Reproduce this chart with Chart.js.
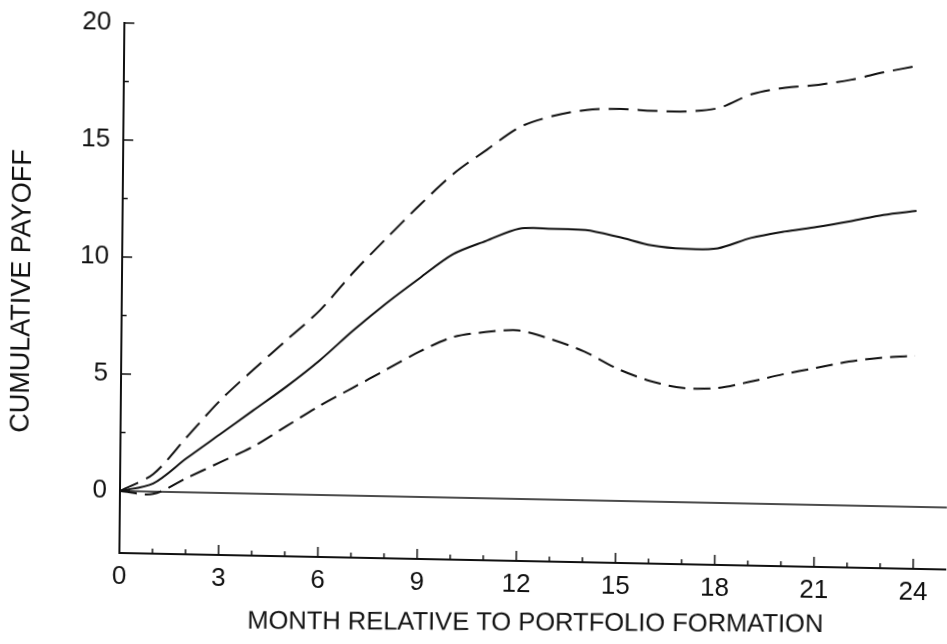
<!DOCTYPE html>
<html><head><meta charset="utf-8">
<script src="https://cdn.jsdelivr.net/npm/chart.js@4"></script>
<style>
html,body{margin:0;padding:0;background:#fff;overflow:hidden}
#wrap{width:947px;height:644px;}
canvas{display:block;transform-origin:120px 491px;transform:matrix(1,0.02,-0.0094,1,0,0);}
</style></head><body>
<div id="wrap"><canvas id="c" width="947" height="644"></canvas></div>
<script>
const months      = [0,1,2,3,4,5,6,7,8,9,10,11,12,13,14,15,16,17,18,19,20,21,22,23,24];
const meanPayoff  = [0,0.35,1.45,2.5,3.55,4.6,5.75,7.05,8.25,9.35,10.4,11.0,11.55,11.57,11.55,11.28,10.95,10.83,10.88,11.35,11.65,11.88,12.15,12.45,12.65];
const upperBand   = [0,0.75,2.35,3.95,5.3,6.6,7.9,9.55,11.05,12.5,13.85,14.9,15.9,16.4,16.68,16.75,16.7,16.7,16.88,17.5,17.8,17.95,18.2,18.55,18.85];
const lowerBand   = [0,-0.1,0.6,1.3,2.0,2.9,3.8,4.6,5.4,6.2,6.85,7.1,7.2,6.85,6.35,5.65,5.15,4.88,4.9,5.2,5.55,5.85,6.15,6.35,6.45];
const zeroLine    = [0,0];
const zeroLineX   = [0,25];
const xTickValues = [0,1,2,3,4,5,6,7,8,9,10,11,12,13,14,15,16,17,18,19,20,21,22,23,24];
const xTickLabels = ['0','3','6','9','12','15','18','21','24'];
const yTickValues = [0,2.5,5,7.5,10,12.5,15,17.5,20];
const yTickLabels = ['0','5','10','15','20'];
const xTitle = 'MONTH RELATIVE TO PORTFOLIO FORMATION';
const yTitle = 'CUMULATIVE PAYOFF';

const ink = '#111';
const fontFam = 'Liberation Sans, Arial, sans-serif';
const pts = (xs, ys) => xs.map((x, i) => ({x: x, y: ys[i]}));

const innerTicks = {
  id: 'innerTicks',
  afterDatasetsDraw(chart) {
    const {ctx, scales: {x, y}, chartArea: a} = chart;
    ctx.save();
    ctx.strokeStyle = ink;
    ctx.lineWidth = 1.5;
    x.ticks.forEach(t => {
      const px = x.getPixelForValue(t.value);
      const len = xTickLabels.includes(String(t.value)) ? 10 : 5;
      ctx.beginPath(); ctx.moveTo(px, a.bottom); ctx.lineTo(px, a.bottom - len); ctx.stroke();
    });
    y.ticks.forEach(t => {
      const py = y.getPixelForValue(t.value);
      const len = yTickLabels.includes(String(t.value)) ? 10 : 5;
      ctx.beginPath(); ctx.moveTo(a.left, py); ctx.lineTo(a.left + len, py); ctx.stroke();
    });
    ctx.fillStyle = ink;
    ctx.textAlign = 'center';
    ctx.textBaseline = 'middle';
    // x axis title, nearly level in the scan
    ctx.save();
    ctx.font = '25.5px ' + fontFam;
    ctx.translate((a.left + a.right) / 2 + 3, 615);
    ctx.transform(1, -0.014, 0, 1, 0, 0);
    ctx.fillText(xTitle, 0, 0);
    ctx.restore();
    // y axis title
    ctx.save();
    ctx.font = '27px ' + fontFam;
    ctx.translate(21, (a.top + a.bottom) / 2 + 5);
    ctx.rotate(-Math.PI / 2);
    ctx.fillText(yTitle, 0, 0);
    ctx.restore();
    ctx.restore();
  }
};

new Chart(document.getElementById('c'), {
  type: 'line',
  data: {
    datasets: [
      {data: pts(months, meanPayoff), borderColor: ink, borderWidth: 2, pointRadius: 0, tension: 0.3, fill: false},
      {data: pts(months, upperBand), borderColor: ink, borderWidth: 2, borderDash: [20, 9], pointRadius: 0, tension: 0.3, fill: false},
      {data: pts(months, lowerBand), borderColor: ink, borderWidth: 2, borderDash: [17, 8], pointRadius: 0, tension: 0.3, fill: false},
      {data: pts(zeroLineX, zeroLine), borderColor: ink, borderWidth: 1.6, pointRadius: 0, fill: false}
    ]
  },
  options: {
    responsive: false,
    animation: false,
    devicePixelRatio: 1,
    layout: {padding: {top: 23, right: 0, left: 0, bottom: 0}},
    plugins: {legend: {display: false}, tooltip: {enabled: false}},
    scales: {
      x: {
        type: 'linear', min: 0, max: 25,
        afterBuildTicks: s => { s.ticks = xTickValues.map(v => ({value: v})); },
        afterFit: s => { s.height = 91; s.paddingLeft = 0; s.paddingRight = 0; },
        grid: {display: false, drawTicks: false},
        border: {display: true, color: ink, width: 2},
        ticks: {
          padding: 8, color: ink, maxRotation: 0, autoSkip: false,
          font: {family: fontFam, size: 26},
          callback: v => xTickLabels.includes(String(v)) ? String(v) : ''
        },
        title: {display: false}
      },
      y: {
        type: 'linear', min: -2.65, max: 20,
        afterBuildTicks: s => { s.ticks = yTickValues.map(v => ({value: v})); },
        afterFit: s => { s.width = 120; s.paddingTop = 0; s.paddingBottom = 0; },
        grid: {display: false, drawTicks: false},
        border: {display: true, color: ink, width: 2},
        ticks: {
          padding: 13, color: ink, autoSkip: false,
          font: {family: fontFam, size: 26},
          callback: v => yTickLabels.includes(String(v)) ? String(v) : ''
        },
        title: {display: false}
      }
    }
  },
  plugins: [innerTicks]
});
</script>
</body></html>
